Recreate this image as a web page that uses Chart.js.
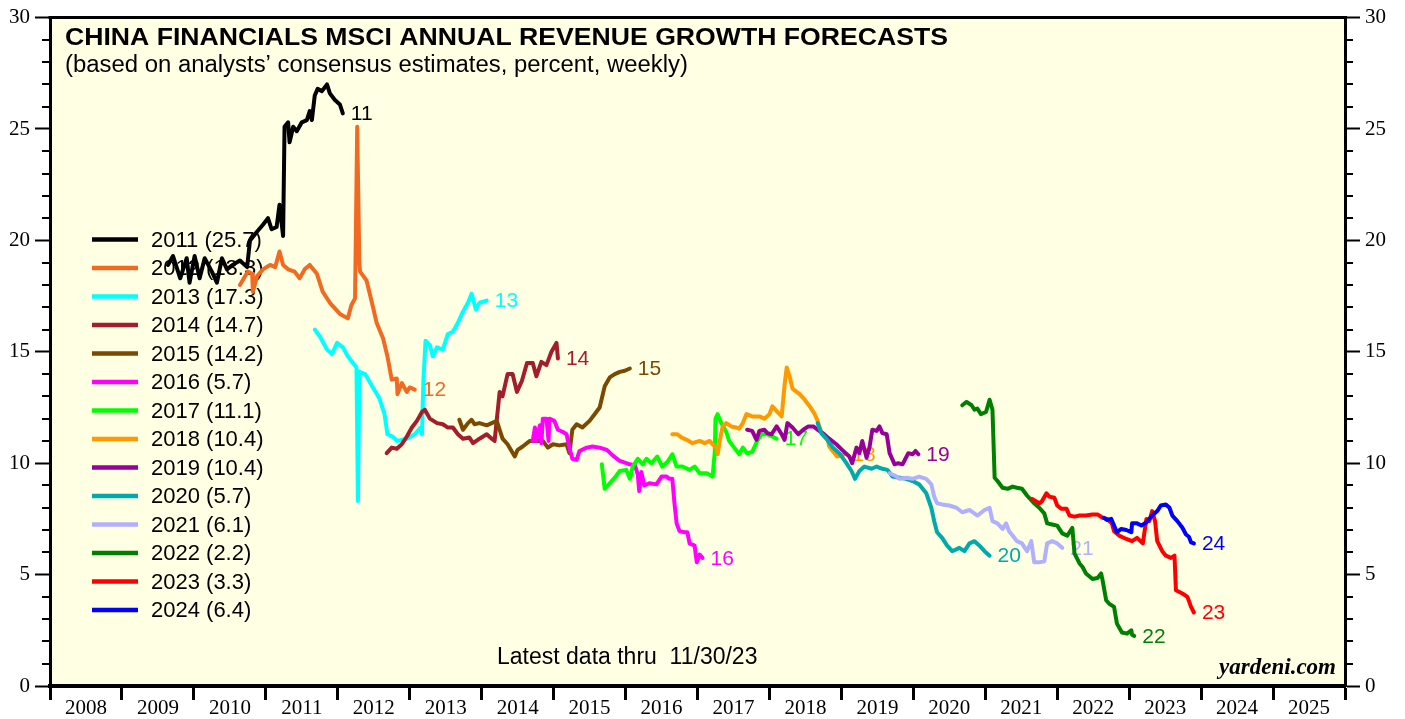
<!DOCTYPE html>
<html>
<head>
<meta charset="utf-8">
<script src="https://cdn.jsdelivr.net/npm/chart.js@4.4.0/dist/chart.umd.min.js"></script>
<style>
  body { margin: 0; background: #ffffff; }
</style>
</head>
<body>
<canvas id="revChart" width="1405" height="719"></canvas>
<script>
// forecast years, their latest values (legend) and colours
var seriesYears = [2011, 2012, 2013, 2014, 2015, 2016, 2017, 2018, 2019, 2020, 2021, 2022, 2023, 2024];
var latestValues = ['25.7', '13.3', '17.3', '14.7', '14.2', '5.7', '11.1', '10.4', '10.4', '5.7', '6.1', '2.2', '3.3', '6.4'];
var seriesColors = ['#000000', '#f26a22', '#00ffff', '#a31d2a', '#7b4a00', '#ff00ff', '#00ff00',
                    '#ff9900', '#990099', '#00aaaa', '#b0b0ff', '#008000', '#ff0000', '#0000ff'];
var yearLabels = ['2008', '2009', '2010', '2011', '2012', '2013', '2014', '2015', '2016',
                  '2017', '2018', '2019', '2020', '2021', '2022', '2023', '2024', '2025'];

// weekly consensus forecasts: [date as decimal year, percent]
var f2011 = [[2009.64,18.9],[2009.71,19.3],[2009.81,18.3],[2009.90,19.2],[2009.94,18.1],[2010.01,19.3],[2010.08,18.3],
  [2010.15,19.2],[2010.25,18.6],[2010.32,18.1],[2010.39,19.2],[2010.46,18.7],[2010.54,18.9],[2010.64,19.1],[2010.74,18.8],
  [2010.78,20.0],[2010.88,20.4],[2010.96,20.7],[2011.03,21.0],[2011.08,20.5],[2011.15,20.6],[2011.19,21.6],[2011.24,20.2],
  [2011.26,25.1],[2011.31,25.3],[2011.33,24.4],[2011.38,25.1],[2011.43,24.9],[2011.50,25.3],[2011.57,25.4],[2011.61,25.8],
  [2011.64,25.4],[2011.68,26.5],[2011.72,26.8],[2011.78,26.7],[2011.85,27.0],[2011.89,26.6],[2011.96,26.3],[2012.03,26.1],
  [2012.07,25.7]];
var f2012 = [[2010.64,18.0],[2010.75,18.6],[2010.81,18.5],[2010.82,17.7],[2010.88,18.4],[2010.96,18.7],[2011.06,18.9],
  [2011.13,18.8],[2011.19,19.5],[2011.24,18.9],[2011.31,18.7],[2011.40,18.6],[2011.47,18.3],[2011.54,18.7],[2011.61,18.9],
  [2011.71,18.5],[2011.79,17.7],[2011.89,17.2],[2012.03,16.7],[2012.14,16.5],[2012.19,17.1],[2012.24,17.4],[2012.27,25.1],
  [2012.30,19.0],[2012.31,18.6],[2012.40,18.2],[2012.49,17.0],[2012.54,16.3],[2012.63,15.6],[2012.69,14.8],[2012.75,13.75],
  [2012.82,13.8],[2012.83,13.1],[2012.89,13.6],[2012.96,13.2],[2013.00,13.4],[2013.07,13.3]];
var f2013 = [[2011.68,16.0],[2011.75,15.7],[2011.85,15.1],[2011.92,14.9],[2011.99,15.4],[2012.07,15.2],[2012.14,14.8],
  [2012.21,14.5],[2012.26,14.3],[2012.28,8.3],[2012.30,14.1],[2012.38,14.0],[2012.47,13.5],[2012.58,12.9],[2012.65,12.2],
  [2012.69,11.3],[2012.76,11.2],[2012.83,11.0],[2012.96,11.1],[2013.07,11.3],[2013.15,11.6],[2013.17,11.3],[2013.19,13.7],
  [2013.22,15.5],[2013.28,15.3],[2013.32,14.8],[2013.38,15.2],[2013.46,15.1],[2013.53,15.8],[2013.60,15.9],[2013.67,16.3],
  [2013.74,16.8],[2013.81,17.2],[2013.86,17.6],[2013.92,16.9],[2013.97,17.2],[2014.07,17.3]];
var f2014 = [[2012.68,10.45],[2012.75,10.7],[2012.82,10.65],[2012.89,10.85],[2012.96,11.2],[2013.03,11.6],[2013.10,11.9],
  [2013.17,12.3],[2013.21,12.4],[2013.28,12.0],[2013.38,11.8],[2013.46,11.75],[2013.53,11.6],[2013.60,11.6],[2013.67,11.3],
  [2013.74,11.1],[2013.83,11.15],[2013.88,10.9],[2013.97,11.1],[2014.07,11.3],[2014.14,11.1],[2014.18,11.0],[2014.25,13.2],
  [2014.29,13.0],[2014.36,14.0],[2014.43,14.0],[2014.49,13.2],[2014.56,13.7],[2014.63,14.5],[2014.71,14.5],[2014.76,13.9],
  [2014.83,14.55],[2014.90,14.4],[2014.97,15.0],[2015.04,15.4],[2015.06,14.7]];
var f2015 = [[2013.69,11.95],[2013.74,11.5],[2013.81,11.8],[2013.86,11.95],[2013.90,11.75],[2013.97,11.8],[2014.07,11.7],
  [2014.14,11.8],[2014.21,11.9],[2014.25,11.5],[2014.29,11.1],[2014.36,10.85],[2014.46,10.3],[2014.50,10.6],[2014.57,10.75],
  [2014.67,11.0],[2014.76,11.0],[2014.85,11.0],[2014.92,10.7],[2014.99,10.85],[2015.08,10.8],[2015.18,10.85],[2015.22,10.45],
  [2015.26,11.5],[2015.32,11.75],[2015.40,11.6],[2015.50,11.9],[2015.57,12.2],[2015.64,12.5],[2015.67,12.9],[2015.71,13.45],
  [2015.78,13.85],[2015.85,14.0],[2015.92,14.1],[2015.99,14.15],[2016.06,14.25]];
var f2016 = [[2014.71,11.0],[2014.74,11.6],[2014.76,11.0],[2014.81,11.7],[2014.83,10.9],[2014.85,12.0],[2014.90,12.0],
  [2014.93,11.0],[2014.94,12.0],[2015.01,11.9],[2015.06,11.5],[2015.13,11.4],[2015.18,11.3],[2015.22,10.7],[2015.26,10.2],
  [2015.32,10.15],[2015.36,10.55],[2015.46,10.7],[2015.54,10.75],[2015.64,10.7],[2015.74,10.6],[2015.82,10.35],[2015.92,10.1],
  [2016.06,9.95],[2016.13,9.9],[2016.17,9.5],[2016.19,8.75],[2016.22,9.6],[2016.26,9.0],[2016.33,9.1],[2016.43,9.05],
  [2016.50,9.4],[2016.57,9.4],[2016.61,9.3],[2016.65,9.3],[2016.68,8.2],[2016.71,7.3],[2016.75,6.95],[2016.82,6.9],
  [2016.86,6.9],[2016.89,6.4],[2016.96,6.3],[2016.99,5.55],[2017.03,5.9],[2017.07,5.75]];
var f2017 = [[2015.67,9.95],[2015.71,8.85],[2015.78,9.1],[2015.85,9.35],[2015.92,9.65],[2016.01,9.7],[2016.06,9.3],
  [2016.10,9.85],[2016.17,10.2],[2016.24,9.95],[2016.29,10.2],[2016.36,10.0],[2016.44,10.3],[2016.51,9.85],[2016.58,10.05],
  [2016.65,10.4],[2016.71,9.85],[2016.79,9.85],[2016.89,9.7],[2016.96,9.85],[2017.03,9.55],[2017.13,9.55],[2017.21,9.4],
  [2017.24,10.5],[2017.25,12.0],[2017.28,12.2],[2017.33,11.8],[2017.40,11.4],[2017.44,11.0],[2017.51,10.7],[2017.58,10.4],
  [2017.63,10.7],[2017.69,10.45],[2017.76,10.5],[2017.83,11.0],[2017.89,11.3],[2017.96,11.3],[2018.04,11.2],[2018.10,11.1]];
var f2018 = [[2016.65,11.3],[2016.72,11.3],[2016.78,11.15],[2016.85,11.05],[2016.93,10.9],[2017.03,11.0],[2017.10,10.9],
  [2017.17,11.0],[2017.21,10.85],[2017.26,10.7],[2017.28,10.4],[2017.31,11.0],[2017.35,11.65],[2017.40,11.8],[2017.47,11.65],
  [2017.54,11.6],[2017.58,11.55],[2017.63,11.8],[2017.68,12.2],[2017.76,12.1],[2017.86,12.1],[2017.93,12.0],[2018.00,12.2],
  [2018.04,12.55],[2018.11,12.3],[2018.17,12.1],[2018.21,13.5],[2018.24,14.3],[2018.28,13.9],[2018.32,13.35],[2018.42,13.1],
  [2018.49,12.85],[2018.56,12.55],[2018.63,12.2],[2018.67,11.9],[2018.72,11.4],[2018.76,11.3],[2018.81,11.1],[2018.83,10.75],
  [2018.88,10.55],[2018.94,10.3],[2019.04,10.4]];
var f2019 = [[2017.69,11.5],[2017.76,11.45],[2017.82,11.05],[2017.86,11.45],[2017.93,11.5],[2017.97,11.35],[2018.03,11.3],
  [2018.10,11.65],[2018.17,11.3],[2018.21,11.05],[2018.25,11.8],[2018.32,11.6],[2018.40,11.3],[2018.47,11.5],[2018.54,11.65],
  [2018.61,11.65],[2018.67,11.5],[2018.74,11.35],[2018.83,11.1],[2018.93,10.85],[2019.01,10.6],[2019.11,10.3],[2019.15,10.0],
  [2019.21,10.7],[2019.25,10.45],[2019.29,11.0],[2019.35,10.25],[2019.39,10.7],[2019.43,11.5],[2019.49,11.45],[2019.53,11.65],
  [2019.57,11.35],[2019.63,11.3],[2019.67,10.45],[2019.74,9.95],[2019.79,10.0],[2019.85,9.95],[2019.89,10.2],[2019.93,10.45],
  [2019.99,10.4],[2020.03,10.55],[2020.07,10.4]];
var f2020 = [[2018.67,11.8],[2018.72,11.35],[2018.79,11.1],[2018.88,10.7],[2018.97,10.45],[2019.07,10.0],[2019.14,9.65],
  [2019.19,9.3],[2019.25,9.65],[2019.32,9.85],[2019.42,9.75],[2019.49,9.85],[2019.57,9.75],[2019.64,9.7],[2019.71,9.4],
  [2019.81,9.35],[2019.90,9.3],[2019.99,9.2],[2020.08,9.05],[2020.18,8.65],[2020.25,8.0],[2020.29,7.4],[2020.33,6.9],
  [2020.40,6.65],[2020.47,6.3],[2020.54,6.05],[2020.64,6.2],[2020.71,6.05],[2020.78,6.4],[2020.85,6.5],[2020.92,6.3],
  [2020.99,6.05],[2021.06,5.85]];
var f2021 = [[2019.67,9.55],[2019.74,9.45],[2019.81,9.3],[2019.90,9.35],[2019.99,9.3],[2020.08,9.4],[2020.18,9.3],
  [2020.25,9.05],[2020.29,8.5],[2020.33,8.2],[2020.40,8.15],[2020.50,8.1],[2020.60,8.0],[2020.68,7.8],[2020.78,7.9],
  [2020.89,7.65],[2020.99,7.9],[2021.06,8.0],[2021.10,7.4],[2021.17,7.3],[2021.24,7.05],[2021.29,7.3],[2021.33,6.95],
  [2021.38,6.75],[2021.44,6.5],[2021.51,6.4],[2021.58,6.05],[2021.64,6.5],[2021.68,5.55],[2021.75,5.55],[2021.82,5.6],
  [2021.86,6.4],[2021.93,6.5],[2022.00,6.4],[2022.07,6.2]];
var f2022 = [[2020.68,12.6],[2020.74,12.75],[2020.81,12.6],[2020.85,12.4],[2020.89,12.45],[2020.94,12.2],[2021.01,12.3],
  [2021.06,12.85],[2021.10,12.4],[2021.13,9.35],[2021.17,9.2],[2021.24,8.9],[2021.31,8.85],[2021.38,8.95],[2021.44,8.9],
  [2021.51,8.85],[2021.58,8.55],[2021.68,8.2],[2021.75,8.0],[2021.82,7.75],[2021.86,7.3],[2021.93,7.25],[2022.00,7.2],
  [2022.07,6.85],[2022.14,6.75],[2022.21,7.1],[2022.24,5.95],[2022.31,5.5],[2022.35,5.35],[2022.40,5.05],[2022.49,4.8],
  [2022.56,4.85],[2022.61,5.05],[2022.63,4.75],[2022.68,3.85],[2022.72,3.7],[2022.79,3.55],[2022.83,2.8],[2022.90,2.4],
  [2022.97,2.35],[2023.03,2.5],[2023.04,2.3],[2023.07,2.25]];
var f2023 = [[2021.65,8.4],[2021.75,8.2],[2021.79,8.3],[2021.85,8.65],[2021.89,8.5],[2021.96,8.45],[2022.00,8.1],
  [2022.06,7.95],[2022.13,7.95],[2022.17,7.65],[2022.24,7.6],[2022.31,7.65],[2022.40,7.65],[2022.49,7.7],[2022.56,7.7],
  [2022.63,7.55],[2022.69,7.5],[2022.76,7.3],[2022.79,6.95],[2022.86,6.75],[2022.96,6.6],[2023.04,6.5],[2023.11,6.65],
  [2023.19,6.4],[2023.24,7.5],[2023.28,7.4],[2023.32,7.85],[2023.36,7.4],[2023.39,6.5],[2023.46,6.05],[2023.51,5.85],
  [2023.58,5.75],[2023.63,5.85],[2023.65,4.3],[2023.74,4.15],[2023.81,4.0],[2023.86,3.55],[2023.90,3.3]];
var f2024 = [[2022.65,7.55],[2022.69,7.45],[2022.75,7.5],[2022.79,7.2],[2022.83,6.9],[2022.89,7.05],[2022.96,7.0],
  [2023.03,6.9],[2023.04,7.3],[2023.11,7.3],[2023.17,7.2],[2023.24,7.35],[2023.32,7.65],[2023.39,7.85],[2023.44,8.1],
  [2023.51,8.15],[2023.56,8.0],[2023.60,7.65],[2023.67,7.4],[2023.74,7.1],[2023.79,6.8],[2023.83,6.7],[2023.86,6.45],
  [2023.90,6.4]];

var allSeries = [f2011, f2012, f2013, f2014, f2015, f2016, f2017, f2018, f2019, f2020, f2021, f2022, f2023, f2024];

var datasets = allSeries.map(function(s, i) {
  return {
    label: seriesYears[i] + ' (' + latestValues[i] + ')',
    data: s.map(function(p) { return { x: p[0], y: p[1] }; }),
    borderColor: seriesColors[i],
    backgroundColor: seriesColors[i],
    borderWidth: 4,
    pointRadius: 0,
    tension: 0,
    fill: false,
    borderJoinStyle: 'round',
    borderCapStyle: 'round',
    order: -i
  };
});

// text, legend and frame drawn inside the plot area
var decorPlugin = {
  id: 'decor',
  beforeDraw: function(chart) {
    var a = chart.chartArea, ctx = chart.ctx;
    ctx.save();
    ctx.fillStyle = '#ffffe4';
    ctx.fillRect(a.left, a.top, a.right - a.left, a.bottom - a.top);
    ctx.restore();
  },
  beforeDatasetsDraw: function(chart) {
    var a = chart.chartArea, ctx = chart.ctx;
    var xs = chart.scales.x, ys = chart.scales.y;
    ctx.save();
    ctx.textBaseline = 'alphabetic';
    ctx.fillStyle = '#000';

    // title, stretched a little like the original
    ctx.font = 'bold 23px "Liberation Sans", Arial, sans-serif';
    var title = 'CHINA FINANCIALS MSCI ANNUAL REVENUE GROWTH FORECASTS';
    var tw = ctx.measureText(title).width;
    ctx.save();
    ctx.translate(a.left + 15, a.top + 27);
    ctx.scale(883 / tw, 1);
    ctx.fillText(title, 0, 0);
    ctx.restore();

    ctx.font = '23px "Liberation Sans", Arial, sans-serif';
    var sub = '(based on analysts\u2019 consensus estimates, percent, weekly)';
    var sw = ctx.measureText(sub).width;
    ctx.save();
    ctx.translate(a.left + 15, a.top + 54);
    ctx.scale(623 / sw, 1);
    ctx.fillText(sub, 0, 0);
    ctx.restore();

    // legend
    ctx.textBaseline = 'middle';
    ctx.font = '22px "Liberation Sans", Arial, sans-serif';
    chart.data.datasets.forEach(function(ds, i) {
      var y = a.top + 222 + i * 28.5;
      ctx.strokeStyle = ds.borderColor;
      ctx.lineWidth = 4.5;
      ctx.beginPath();
      ctx.moveTo(a.left + 42, y);
      ctx.lineTo(a.left + 88, y);
      ctx.stroke();
      ctx.fillStyle = '#000';
      ctx.fillText(ds.label, a.left + 101, y + 1);
    });

    // end-of-line year tags
    ctx.font = '21px "Liberation Sans", Arial, sans-serif';
    allSeries.forEach(function(s, i) {
      var last = s[s.length - 1];
      ctx.fillStyle = seriesColors[i];
      ctx.fillText(String(seriesYears[i]).slice(2), xs.getPixelForValue(last[0]) + 8, ys.getPixelForValue(last[1]) + 1);
    });

    ctx.fillStyle = '#000';
    ctx.font = '23px "Liberation Sans", Arial, sans-serif';
    ctx.fillText('Latest data thru  11/30/23', a.left + 447, a.bottom - 28);

    ctx.textAlign = 'right';
    ctx.font = 'italic bold 23px "Liberation Serif", "Times New Roman", serif';
    ctx.fillText('yardeni.com', a.right - 9, a.bottom - 18);
    ctx.restore();
  },
  afterDraw: function(chart) {
    var a = chart.chartArea, ctx = chart.ctx, ys = chart.scales.y;
    ctx.save();
    ctx.strokeStyle = '#000';
    ctx.lineWidth = 3;
    ctx.beginPath();
    ctx.moveTo(a.left - 1.5, a.top);
    ctx.lineTo(a.right + 1.5, a.top);
    ctx.stroke();
    // minor ticks every unit on both value axes
    ctx.lineWidth = 2;
    for (var v = ys.min; v <= ys.max; v++) {
      if (v % 5 === 0) continue;
      var py = Math.round(ys.getPixelForValue(v));
      ctx.beginPath();
      ctx.moveTo(a.left - 8, py);
      ctx.lineTo(a.left, py);
      ctx.moveTo(a.right, py);
      ctx.lineTo(a.right + 8, py);
      ctx.stroke();
    }
    ctx.restore();
  }
};

function valueAxis(pos, w) {
  return {
    position: pos,
    min: 0,
    max: 30,
    ticks: {
      stepSize: 5,
      padding: 5,
      color: '#000',
      font: { family: '"Liberation Serif", "Times New Roman", serif', size: 21 }
    },
    grid: { drawOnChartArea: false, drawTicks: true, tickLength: 15, tickWidth: 2, tickColor: '#000' },
    border: { display: true, width: 3, color: '#000' },
    afterFit: function(axis) { axis.width = w; }
  };
}

var ctx = document.getElementById('revChart');
var revChart = new Chart(ctx, {
  type: 'line',
  data: { datasets: datasets },
  options: {
    responsive: false,
    animation: false,
    layout: { padding: { top: 14, left: 0, right: 0, bottom: 0 } },
    plugins: {
      legend: { display: false },
      tooltip: { enabled: false }
    },
    scales: {
      x: {
        type: 'linear',
        min: 2008,
        max: 2026,
        afterBuildTicks: function(axis) {
          axis.ticks = yearLabels.map(function(y) { return { value: Number(y) }; }).concat([{ value: 2026 }]);
        },
        ticks: {
          callback: function(v, i) { return yearLabels[i] || ''; },
          labelOffset: 36,
          padding: -4,
          maxRotation: 0,
          autoSkip: false,
          color: '#000',
          font: { family: '"Liberation Serif", "Times New Roman", serif', size: 21 }
        },
        grid: { drawOnChartArea: false, drawTicks: true, tickLength: 14, tickWidth: 3, tickColor: '#000' },
        border: { display: true, width: 4, color: '#000' },
        afterFit: function(axis) { axis.height = 33; }
      },
      y: valueAxis('left', 50),
      y2: valueAxis('right', 60)
    }
  },
  plugins: [decorPlugin]
});
</script>
</body>
</html>
